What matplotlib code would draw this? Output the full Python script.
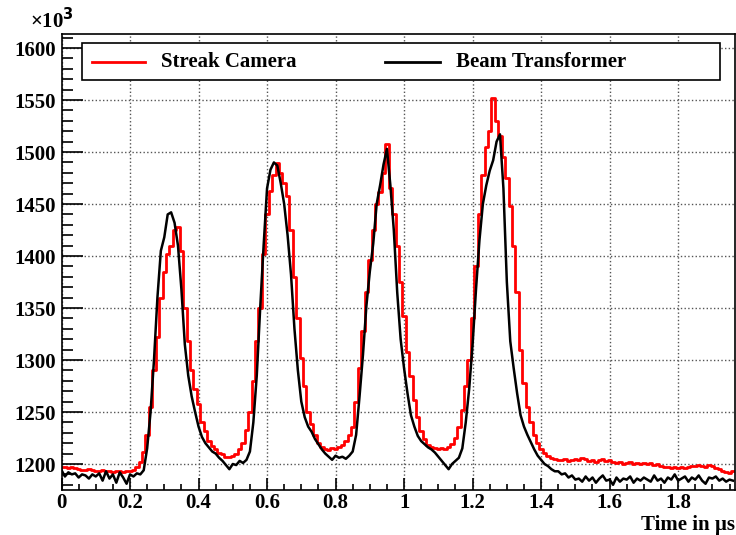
import numpy as np
import matplotlib.pyplot as plt
from matplotlib.patches import Rectangle
from matplotlib.ticker import MultipleLocator, FuncFormatter

plt.rcParams['font.family'] = ['Liberation Serif', 'DejaVu Serif']
plt.rcParams['font.weight'] = 'bold'

# time axis in microseconds, one bin every 10 ns
t_red = np.round(np.arange(0, 197) * 0.01, 2)
t_black = np.round(np.arange(0, 197) * 0.01, 2)

# streak camera signal (x10^3)
streak = [
    1197, 1197, 1196, 1197, 1196, 1195, 1194, 1194, 1195, 1194,
    1193, 1193, 1194, 1193, 1193, 1192, 1193, 1193, 1192, 1193,
    1193, 1194, 1197, 1202, 1212, 1228, 1255, 1290, 1322, 1360,
    1385, 1402, 1410, 1425, 1428, 1405, 1350, 1318, 1290, 1272,
    1258, 1240, 1232, 1222, 1217, 1214, 1211, 1210, 1207, 1207,
    1208, 1210, 1214, 1220, 1233, 1250, 1280, 1318, 1350, 1402,
    1440, 1463, 1478, 1489, 1480, 1470, 1458, 1425, 1380, 1340,
    1302, 1275, 1250, 1238, 1228, 1220, 1216, 1214, 1213, 1215,
    1214, 1216, 1218, 1222, 1228, 1236, 1260, 1292, 1328, 1365,
    1396, 1425, 1450, 1462, 1480, 1508, 1465, 1440, 1410, 1375,
    1342, 1308, 1285, 1262, 1245, 1232, 1224, 1218, 1216, 1215,
    1214, 1215, 1214, 1216, 1219, 1225, 1236, 1252, 1275, 1300,
    1340, 1390, 1440, 1478, 1505, 1520, 1552, 1530, 1515, 1495,
    1475, 1448, 1410, 1365, 1310, 1278, 1255, 1240, 1228, 1220,
    1214, 1211, 1208, 1206, 1205, 1204, 1204, 1205, 1203, 1204,
    1205, 1204, 1206, 1205, 1203, 1204, 1202, 1204, 1205, 1203,
    1204, 1202, 1201, 1202, 1200, 1201, 1202, 1200, 1201, 1200,
    1201, 1200, 1201, 1199, 1200, 1198, 1197, 1197, 1196, 1197,
    1196, 1197, 1196, 1197, 1198, 1198, 1199, 1198, 1197, 1199,
    1198, 1196, 1195, 1193, 1192, 1191, 1193,
]

# beam transformer signal (x10^3)
transformer = [
    1194, 1188, 1192, 1190, 1191, 1187, 1190, 1189, 1186, 1190,
    1188, 1191, 1184, 1193, 1186, 1190, 1182, 1192, 1187, 1181,
    1190, 1188, 1191, 1190, 1194, 1215, 1250, 1300, 1360, 1405,
    1418, 1440, 1442, 1432, 1410, 1368, 1315, 1285, 1265, 1250,
    1236, 1226, 1220, 1216, 1212, 1210, 1206, 1203, 1199, 1195,
    1200, 1199, 1203, 1201, 1204, 1212, 1240, 1285, 1350, 1410,
    1465, 1483, 1490, 1487, 1470, 1450, 1420, 1382, 1330, 1290,
    1260, 1245, 1236, 1231, 1224, 1219, 1214, 1210, 1207, 1204,
    1208, 1206, 1207, 1205, 1208, 1212, 1228, 1265, 1305, 1352,
    1385, 1412, 1450, 1468, 1488, 1503, 1468, 1425, 1365, 1320,
    1292, 1268, 1247, 1236, 1227, 1222, 1219, 1216, 1214, 1211,
    1207, 1203, 1199, 1195, 1200, 1203, 1206, 1215, 1240, 1272,
    1315, 1368, 1415, 1450, 1468, 1482, 1492, 1510, 1517, 1465,
    1375, 1318, 1292, 1268, 1247, 1236, 1228, 1221, 1214, 1208,
    1204, 1200, 1198, 1195, 1193, 1193, 1190, 1191, 1187, 1189,
    1185, 1186, 1183, 1188, 1184, 1187, 1182, 1186, 1189, 1184,
    1185, 1180, 1187, 1183, 1186, 1185, 1188, 1182, 1186, 1184,
    1187, 1185, 1183, 1189, 1184, 1186, 1182, 1187, 1185, 1190,
    1184, 1186, 1188, 1183, 1187, 1185, 1189, 1184, 1181, 1187,
    1186, 1188, 1184, 1186, 1183, 1185, 1184,
]

fig = plt.figure(figsize=(7.36, 5.35), dpi=100)
ax = fig.add_axes([61.5 / 736, 45 / 535, 673.5 / 736, 456 / 535])

ax.step(t_red, streak, where='mid', color='red', lw=2)
ax.plot(t_black, transformer, color='black', lw=1.8)

ax.set_xlim(0, 1.966)
ax.set_ylim(1175, 1613.5)

ax.xaxis.set_major_locator(MultipleLocator(0.2))
ax.xaxis.set_minor_locator(MultipleLocator(0.05))
ax.yaxis.set_major_locator(MultipleLocator(50))
ax.yaxis.set_minor_locator(MultipleLocator(10))
ax.xaxis.set_major_formatter(FuncFormatter(lambda v, p: '%g' % round(v, 2)))

ax.tick_params(axis='x', which='major', direction='in', length=9, width=1.2,
               labelsize=15, pad=2)
ax.tick_params(axis='x', which='minor', direction='in', length=4, width=1.2)
ax.tick_params(axis='y', which='major', direction='in', length=15, width=1.2,
               labelsize=15, pad=4)
ax.tick_params(axis='y', which='minor', direction='in', length=8, width=1.2)

ax.grid(True, which='major', linestyle=':', color='#555555', lw=1)
for s in ax.spines.values():
    s.set_linewidth(1.2)

ax.text(1.0, -0.088, 'Time in \u00b5s', transform=ax.transAxes, ha='right',
        va='baseline', fontsize=15, fontweight='bold')
ax.text(-0.047, 1.012, '\u00d710$^{3}$', transform=ax.transAxes, ha='left',
        va='baseline', fontsize=15, fontweight='bold')

# legend box drawn by hand
tr = ax.transAxes
ax.add_patch(Rectangle((0.0304, 0.899), 0.9473, 0.081, transform=tr,
                       facecolor='white', edgecolor='black', lw=1.2,
                       zorder=5, clip_on=False))
ax.plot([0.0453, 0.124], [0.9386, 0.9386], transform=tr, color='red',
        lw=2, zorder=6)
ax.text(0.1477, 0.9386, 'Streak Camera', transform=tr, ha='left',
        va='center', fontsize=15, fontweight='bold', zorder=6)
ax.plot([0.480, 0.562], [0.9386, 0.9386], transform=tr, color='black',
        lw=2, zorder=6)
ax.text(0.5857, 0.9386, 'Beam Transformer', transform=tr, ha='left',
        va='center', fontsize=15, fontweight='bold', zorder=6)

fig.savefig('out.png', dpi=100)
